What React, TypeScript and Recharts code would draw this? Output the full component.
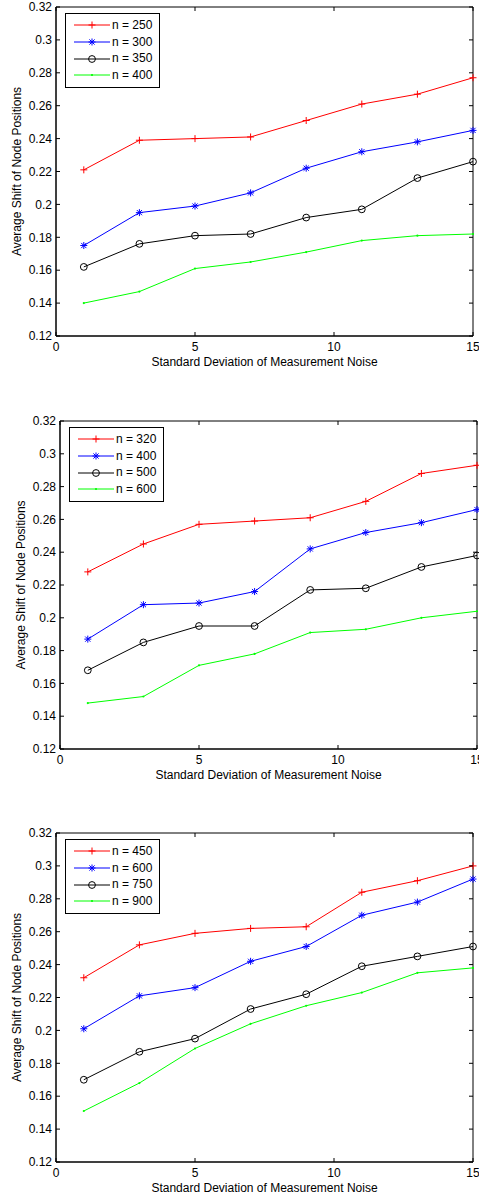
import { LineChart, Line, XAxis, YAxis, ReferenceArea, Legend } from 'recharts';

// noise std-dev values on the x axis
const noise = [1, 3, 5, 7, 9, 11, 13, 15];
const xTicks = [0, 5, 10, 15];
const yTicks = [0.12, 0.14, 0.16, 0.18, 0.2, 0.22, 0.24, 0.26, 0.28, 0.3, 0.32];

// panel 1
const p1Names = ['n = 250', 'n = 300', 'n = 350', 'n = 400'];
const p1Red = [0.221, 0.239, 0.240, 0.241, 0.251, 0.261, 0.267, 0.277];
const p1Blue = [0.175, 0.195, 0.199, 0.207, 0.222, 0.232, 0.238, 0.245];
const p1Black = [0.162, 0.176, 0.181, 0.182, 0.192, 0.197, 0.216, 0.226];
const p1Green = [0.140, 0.147, 0.161, 0.165, 0.171, 0.178, 0.181, 0.182];

// panel 2
const p2Names = ['n = 320', 'n = 400', 'n = 500', 'n = 600'];
const p2Red = [0.228, 0.245, 0.257, 0.259, 0.261, 0.271, 0.288, 0.293];
const p2Blue = [0.187, 0.208, 0.209, 0.216, 0.242, 0.252, 0.258, 0.266];
const p2Black = [0.168, 0.185, 0.195, 0.195, 0.217, 0.218, 0.231, 0.238];
const p2Green = [0.148, 0.152, 0.171, 0.178, 0.191, 0.193, 0.200, 0.204];

// panel 3
const p3Names = ['n = 450', 'n = 600', 'n = 750', 'n = 900'];
const p3Red = [0.232, 0.252, 0.259, 0.262, 0.263, 0.284, 0.291, 0.300];
const p3Blue = [0.201, 0.221, 0.226, 0.242, 0.251, 0.270, 0.278, 0.292];
const p3Black = [0.170, 0.187, 0.195, 0.213, 0.222, 0.239, 0.245, 0.251];
const p3Green = [0.151, 0.168, 0.189, 0.204, 0.215, 0.223, 0.235, 0.238];

const FONT = '"Liberation Sans", Arial, Helvetica, sans-serif';
const KEYS = ['a', 'b', 'c', 'd'];
const COLORS = ['#ff0000', '#0000ff', '#000000', '#00ff00'];
const MARKERS = ['plus', 'star', 'circle', 'dot'];

function Marker({ cx, cy, type, color }: any) {
  if (cx == null || cy == null) return null;
  if (type === 'plus') {
    return (
      <g stroke={color} strokeWidth={1}>
        <line x1={cx - 3.5} x2={cx + 3.5} y1={cy} y2={cy} />
        <line x1={cx} x2={cx} y1={cy - 3.5} y2={cy + 3.5} />
      </g>
    );
  }
  if (type === 'star') {
    return (
      <g stroke={color} strokeWidth={1}>
        <line x1={cx - 3.5} x2={cx + 3.5} y1={cy} y2={cy} />
        <line x1={cx} x2={cx} y1={cy - 3.5} y2={cy + 3.5} />
        <line x1={cx - 2.6} x2={cx + 2.6} y1={cy - 2.6} y2={cy + 2.6} />
        <line x1={cx - 2.6} x2={cx + 2.6} y1={cy + 2.6} y2={cy - 2.6} />
      </g>
    );
  }
  if (type === 'circle') {
    return <circle cx={cx} cy={cy} r={3.4} fill="none" stroke={color} strokeWidth={1} />;
  }
  return <circle cx={cx} cy={cy} r={1.1} fill={color} />;
}

function fmt(v: number) {
  return String(Number(v.toFixed(2)));
}

interface PanelProps {
  names: string[];
  series: number[][];
  height: number;
  top: number;
  left: number;
  bottom: number;
  yLabelOffset: number;
}

function Panel({ names, series, height, top, left, bottom, yLabelOffset }: PanelProps) {
  const width = 479;
  const yAxisW = 56;
  const xAxisH = 30;
  const right = 479 - (left + yAxisW) - 417;
  const plotL = left + yAxisW;
  const plotR = width - right;
  const plotT = top;
  const plotB = height - bottom - xAxisH;

  const rows = noise.map((x, i) => {
    const r: any = { x };
    series.forEach((s, k) => (r[KEYS[k]] = s[i]));
    return r;
  });

  const XTick = ({ x, y, payload }: any) => (
    <g>
      <text x={x} y={y} dy="0.71em" textAnchor="middle" fontSize={12} fontFamily={FONT} fill="#000">
        {payload.value}
      </text>
      <line x1={x} x2={x} y1={plotB} y2={plotB - 4} stroke="#000" />
      <line x1={x} x2={x} y1={plotT} y2={plotT + 4} stroke="#000" />
    </g>
  );

  const YTick = ({ x, y, payload }: any) => (
    <g>
      <text x={x} y={y} dy="0.355em" textAnchor="end" fontSize={12} fontFamily={FONT} fill="#000">
        {fmt(payload.value)}
      </text>
      <line x1={plotL} x2={plotL + 4} y1={y} y2={y} stroke="#000" />
      <line x1={plotR} x2={plotR - 4} y1={y} y2={y} stroke="#000" />
    </g>
  );

  const renderLegend = ({ payload }: any) => {
    const items = (payload && payload.length ? payload : names.map((n, i) => ({ value: n, color: COLORS[i] }))) as any[];
    return (
      <div
        style={{
          border: '1px solid #000',
          background: '#fff',
          padding: '3px 0',
          width: 93,
          fontFamily: FONT,
          fontSize: 12,
          boxSizing: 'content-box',
        }}
      >
        {items.map((it, i) => {
          const idx = names.indexOf(it.value);
          const k = idx >= 0 ? idx : i;
          return (
            <div key={it.value} style={{ display: 'flex', alignItems: 'center', height: 16.7, lineHeight: '16.7px' }}>
              <svg width={46} height={16} style={{ display: 'block' }}>
                <line x1={8} x2={44} y1={8} y2={8} stroke={COLORS[k]} strokeWidth={1} />
                <Marker cx={26} cy={8} type={MARKERS[k]} color={COLORS[k]} />
              </svg>
              <span style={{ color: '#000', whiteSpace: 'nowrap' }}>{it.value}</span>
            </div>
          );
        })}
      </div>
    );
  };

  return (
    <LineChart
      width={width}
      height={height}
      data={rows}
      margin={{ top, right, left, bottom }}
      style={{ fontFamily: FONT }}
    >
      <XAxis
        dataKey="x"
        type="number"
        domain={[0, 15]}
        ticks={xTicks}
        interval={0}
        height={xAxisH}
        tickSize={0}
        tickMargin={6}
        tick={XTick}
        axisLine={{ stroke: '#000' }}
        label={{ value: 'Standard Deviation of Measurement Noise', position: 'insideBottom', offset: 0, fill: '#000', fontSize: 12, fontFamily: FONT }}
      />
      <YAxis
        type="number"
        domain={[0.12, 0.32]}
        ticks={yTicks}
        interval={0}
        width={yAxisW}
        tickSize={0}
        tickMargin={4}
        tick={YTick}
        axisLine={{ stroke: '#000' }}
        label={{
          value: 'Average Shift of Node Positions',
          angle: -90,
          position: 'insideLeft',
          offset: yLabelOffset,
          fill: '#000',
          fontSize: 12,
          fontFamily: FONT,
          style: { textAnchor: 'middle' },
        }}
      />
      <ReferenceArea x1={0} x2={15} y1={0.12} y2={0.32} stroke="#000" strokeWidth={1} fill="none" fillOpacity={0} ifOverflow="visible" />
      {KEYS.map((k, i) => (
        <Line
          key={k}
          dataKey={k}
          name={names[i]}
          type="linear"
          stroke={COLORS[i]}
          strokeWidth={1}
          isAnimationActive={false}
          dot={(p: any) => <Marker key={`${k}-${p.index}`} cx={p.cx} cy={p.cy} type={MARKERS[i]} color={COLORS[i]} />}
          activeDot={false}
        />
      ))}
      <Legend
        content={renderLegend}
        layout="horizontal"
        align="center"
        verticalAlign="middle"
        wrapperStyle={{ left: plotL + 9, top: plotT + 6, width: 95, height: 73 }}
      />
    </LineChart>
  );
}

export default function App() {
  return (
    <div style={{ position: 'absolute', left: 0, top: 0, width: 479, height: 1196, background: '#fff' }}>
      <Panel names={p1Names} series={[p1Red, p1Blue, p1Black, p1Green]} height={414} top={7} left={0} bottom={48} yLabelOffset={17} />
      <Panel names={p2Names} series={[p2Red, p2Blue, p2Black, p2Green]} height={410} top={7} left={4} bottom={45} yLabelOffset={17} />
      <Panel names={p3Names} series={[p3Red, p3Blue, p3Black, p3Green]} height={372} top={9} left={0} bottom={4} yLabelOffset={17} />
    </div>
  );
}
